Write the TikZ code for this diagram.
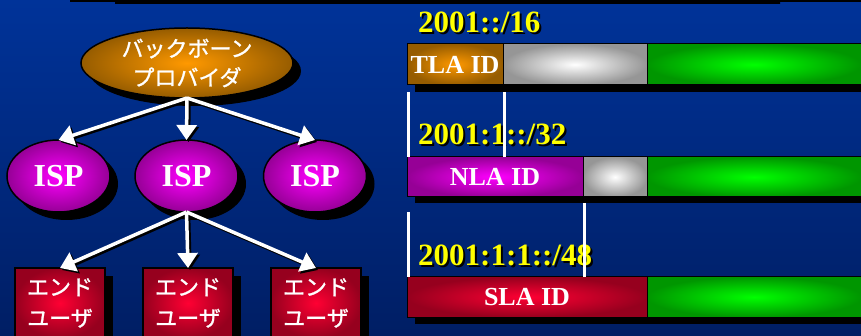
\documentclass[tikz,border=0pt]{standalone}
\usepackage{fontspec}
\setmainfont{Liberation Serif}
\newfontfamily\jpfont[FakeBold=1.2]{Noto Sans CJK JP}
\usetikzlibrary{arrows.meta, shapes.geometric, shadows, calc}
\definecolor{bgtop}{RGB}{0,51,153}
\definecolor{bgbot}{RGB}{0,30,100}
\definecolor{orangeC}{RGB}{255,153,0}
\definecolor{orangeO}{RGB}{150,92,0}
\definecolor{magC}{RGB}{255,0,255}
\definecolor{magO}{RGB}{150,0,150}
\definecolor{redC}{RGB}{255,0,51}
\definecolor{redO}{RGB}{150,0,30}
\definecolor{grnC}{RGB}{0,255,0}
\definecolor{grnO}{RGB}{0,150,0}
\definecolor{gryO}{RGB}{150,150,150}
\definecolor{addrY}{RGB}{255,255,0}
\tikzset{
  >={Triangle[width=20pt,length=15pt]},
  blackshadow/.style={drop shadow={shadow xshift=8pt, shadow yshift=-8pt, opacity=1, fill=black}},
  blob/.style={ellipse, draw=black, line width=1.5pt, inner sep=0pt, outer sep=0pt, blackshadow, text=white},
  backbone/.style={blob, minimum width=212pt, minimum height=70pt, inner color=orangeC, outer color=orangeO,
    font=\jpfont\fontsize{22}{29}\selectfont, align=center},
  isp/.style={blob, minimum width=103pt, minimum height=72pt, inner color=magC, outer color=magO,
    font=\bfseries\fontsize{32}{32}\selectfont},
  user/.style={rectangle, draw=black, line width=1.5pt, minimum width=90pt, minimum height=70pt, anchor=north,
    inner sep=0pt, outer sep=0pt, inner color=redC, outer color=redO, blackshadow, text=white,
    font=\jpfont\fontsize{22}{31}\selectfont, align=center},
  link/.style={->, line width=3.5pt, white},
  linkshadow/.style={->, line width=3.5pt, black},
  seg/.style={rectangle, draw=black, line width=1pt, anchor=north west, inner sep=0pt, outer sep=0pt,
    text=white, font=\bfseries\fontsize{26}{26}\selectfont},
  addr/.style={anchor=base west, inner sep=0pt, font=\bfseries\fontsize{31}{31}\selectfont},
  marker/.style={white, line width=3pt},
}
\begin{document}
\begin{tikzpicture}[x=1pt, y=-1pt]
  \useasboundingbox (0,0) rectangle (861,336);
  \clip (0,0) rectangle (861,336);
  % background
  \shade[top color=bgtop, bottom color=bgbot] (0,0) rectangle (861,336);
  \fill[black] (70,0) -- (861,0) -- (861,2) -- (780,2) -- (780,4) -- (115,4) -- (115,2) -- (70,2) -- cycle;

  % provider tree
  \node[backbone] (bb) at (187,63) {バックボーン\\プロバイダ};
  \node[isp] (isp1) at (58.5,176) {ISP};
  \node[isp] (isp2) at (186.5,176) {ISP};
  \node[isp] (isp3) at (315,176) {ISP};
  \node[user] (eu1) at (60,268) {エンド\\ユーザ};
  \node[user] (eu2) at (188,268) {エンド\\ユーザ};
  \node[user] (eu3) at (316,268) {エンド\\ユーザ};

  \foreach \s/\t in {bb/isp1, bb/isp2, bb/isp3, isp2/eu1, isp2/eu2, isp2/eu3}
    \draw[linkshadow] ([shift={(2,2)}]\s.south) -- ([shift={(2,2)}]\t.north);
  \foreach \s/\t in {bb/isp1, bb/isp2, bb/isp3, isp2/eu1, isp2/eu2, isp2/eu3}
    \draw[link] (\s.south) -- (\t.north);

  % address bars
  \fill[black] (415,51) rectangle (861,92);
  \node[seg, minimum width=96pt, minimum height=41pt, inner color=orangeC, outer color=orangeO] (tla) at (407,44) {TLA ID};
  \node[seg, minimum width=144pt, minimum height=41pt, inner color=white, outer color=gryO] (res1) at (tla.north east) {};
  \node[seg, minimum width=214pt, minimum height=41pt, inner color=grnC, outer color=grnO] (site1) at (res1.north east) {};

  \fill[black] (415,164) rectangle (861,203);
  \node[seg, minimum width=176pt, minimum height=40pt, inner color=magC, outer color=magO] (nla) at (407,157) {NLA ID};
  \node[seg, minimum width=64pt, minimum height=40pt, inner color=white, outer color=gryO] (res2) at (nla.north east) {};
  \node[seg, minimum width=214pt, minimum height=40pt, inner color=grnC, outer color=grnO] (site2) at (res2.north east) {};

  \fill[black] (415,284) rectangle (861,324);
  \node[seg, minimum width=240pt, minimum height=40pt, inner color=redC, outer color=redO] (sla) at (407,277) {SLA ID};
  \node[seg, minimum width=214pt, minimum height=40pt, inner color=grnC, outer color=grnO] (site3) at (sla.north east) {};

  % prefixes
  \node[addr, text=black] (p16s) at (420,35) {2001::/16};
  \node[addr, text=addrY] (p16) at (418,33) {2001::/16};
  \node[addr, text=black] (p32s) at (420,147) {2001:1::/32};
  \node[addr, text=addrY] (p32) at (418,145) {2001:1::/32};
  \node[addr, text=black] (p48s) at (420,268) {2001:1:1::/48};
  \node[addr, text=addrY] (p48) at (418,266) {2001:1:1::/48};

  % markers
  \draw[marker] ($(tla.south west)+(1.5,7)$) -- ($(nla.north west)+(1.5,0)$);
  \draw[marker] ($(tla.south east)+(1.5,7)$) -- ($(nla.north west -| tla.south east)+(1.5,0)$);
  \draw[marker] ($(nla.south west)+(1.5,15)$) -- ($(sla.north west)+(1.5,0)$);
  \draw[marker] ($(nla.south east)+(1.5,6)$) -- ($(sla.north west -| nla.south east)+(1.5,0)$);
\end{tikzpicture}
\end{document}
